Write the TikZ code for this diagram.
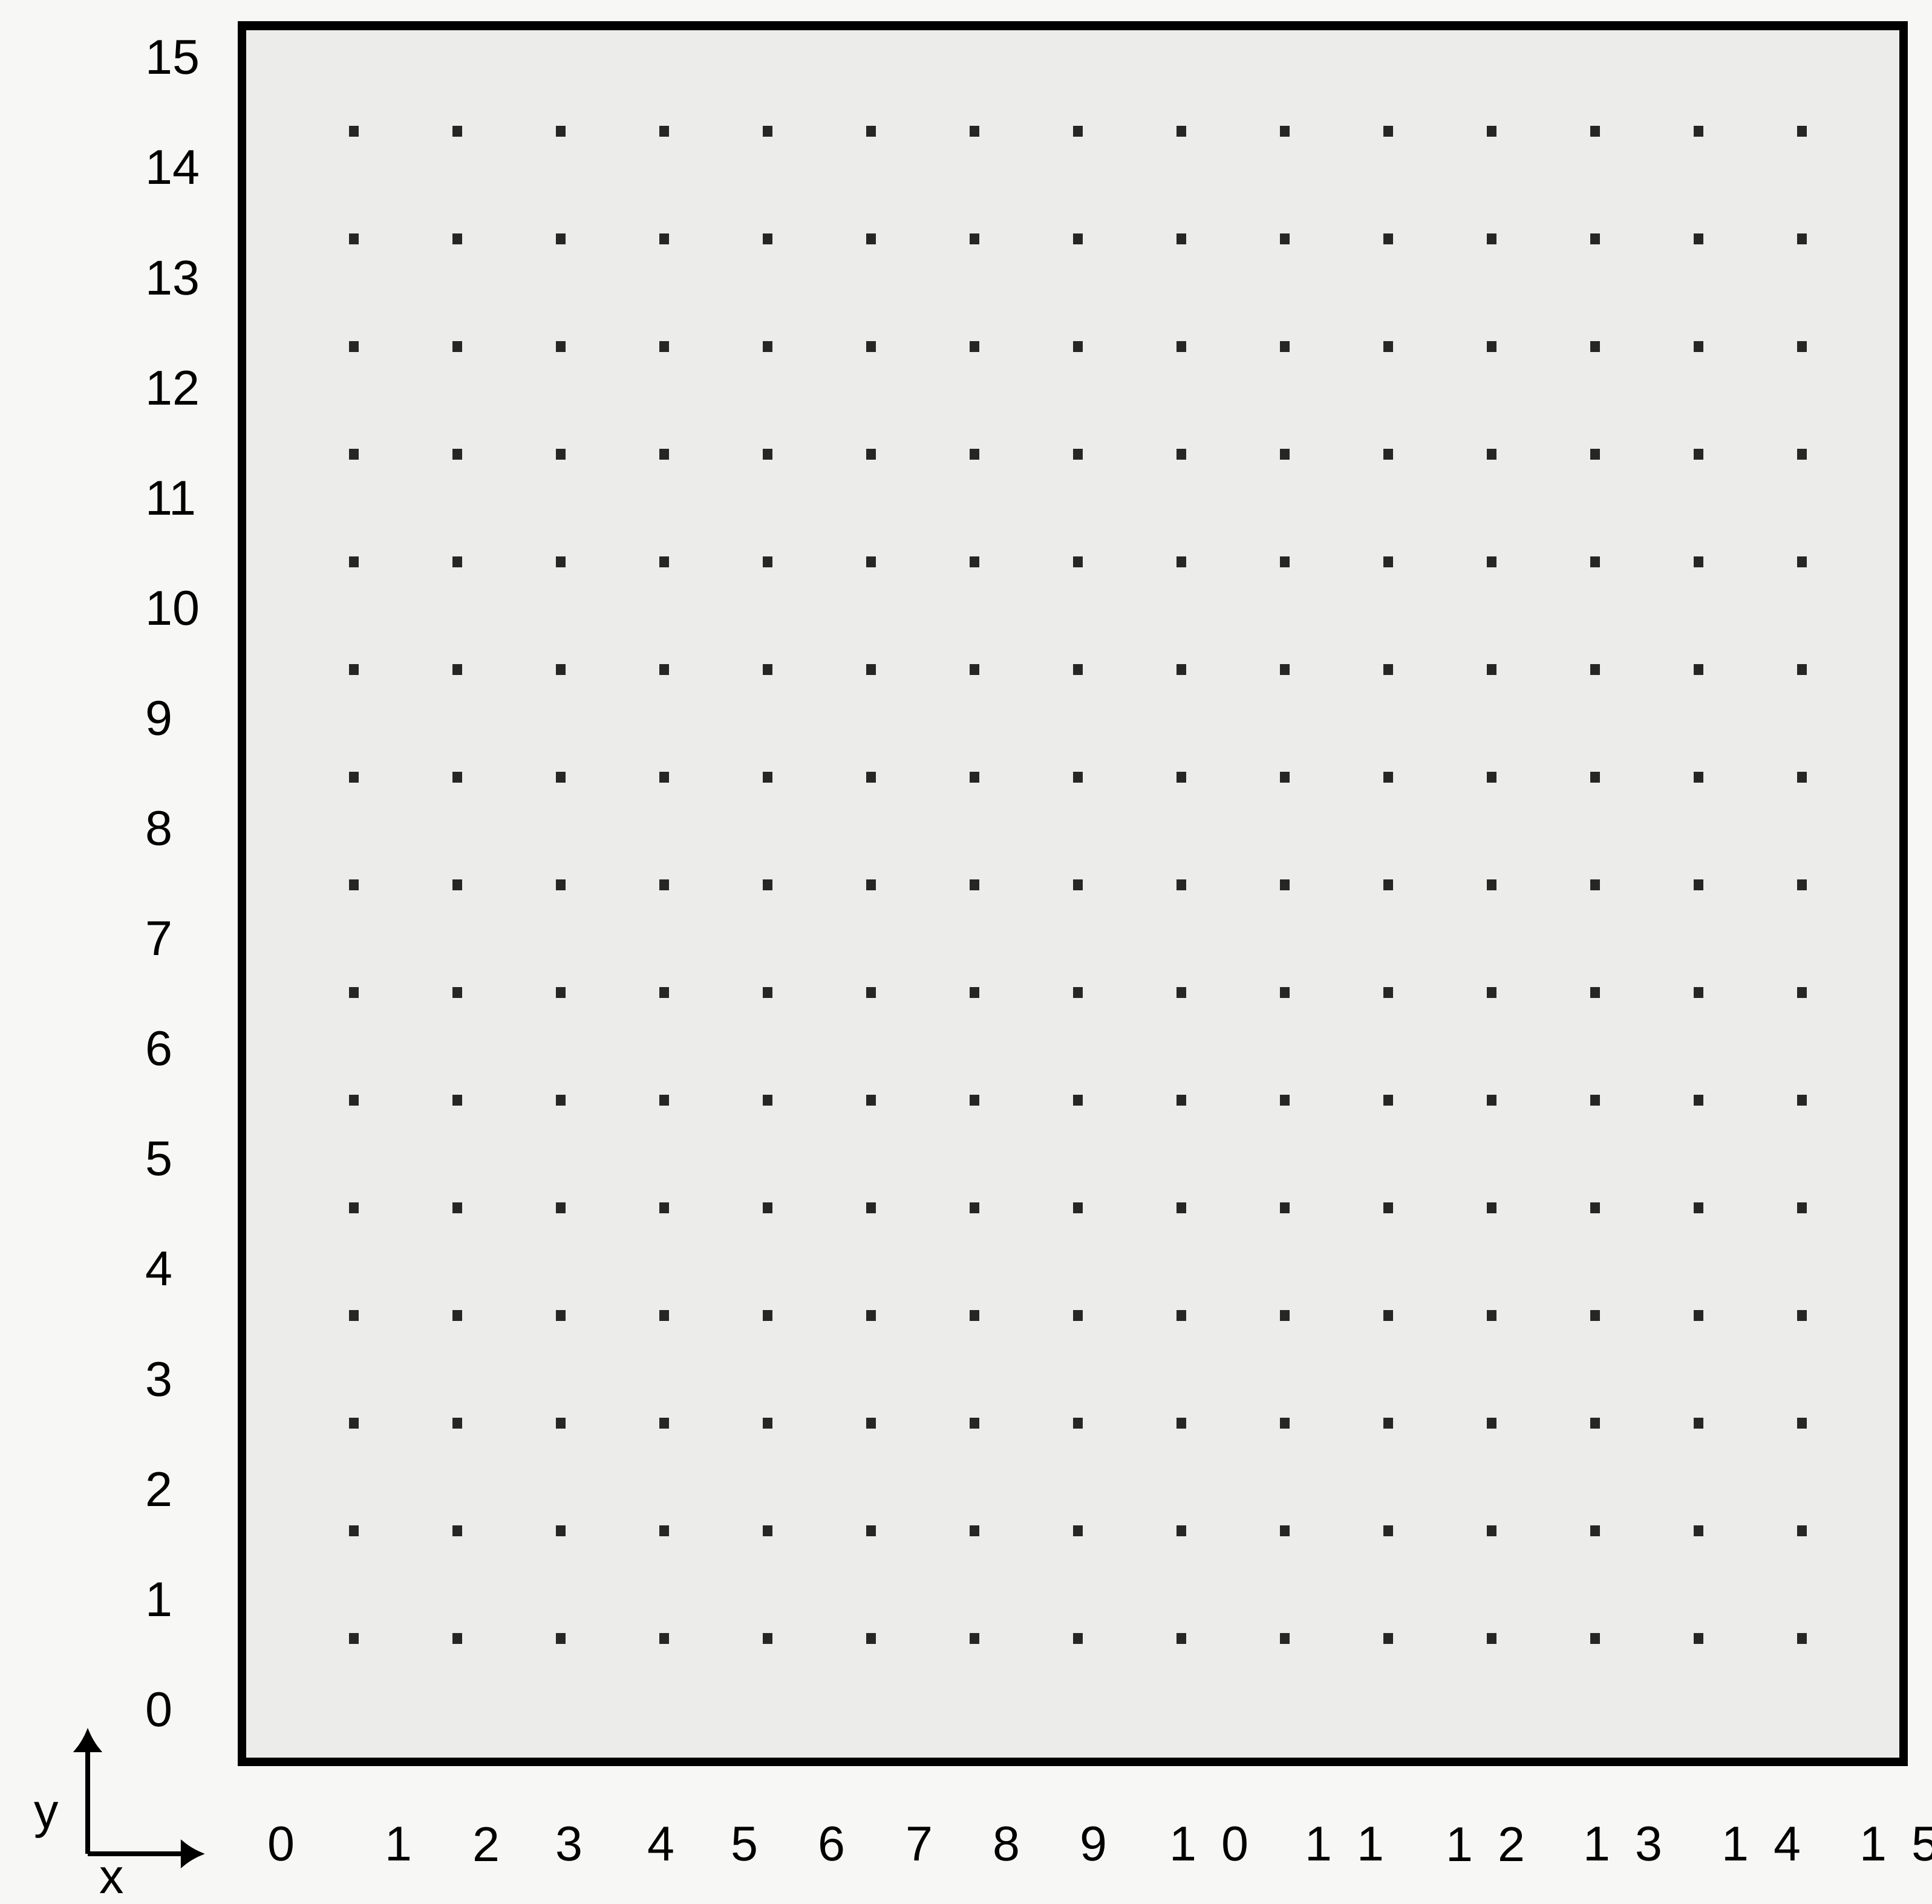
\documentclass[tikz,border=0pt]{standalone}
\usepackage{fontspec}
\setmainfont{Liberation Sans}
\usetikzlibrary{arrows.meta}
\definecolor{papir}{HTML}{F7F7F5}
\definecolor{flate}{HTML}{ECECEA}

\begin{document}
\begin{tikzpicture}[>={Latex[length=4mm,width=5mm]},x=1.71cm,y=1.78cm,
    tall/.style={font=\fontsize{23}{28}\selectfont,inner sep=0pt}]
  \useasboundingbox (-2.421,-1.466) rectangle (16.257,16.219);
  \fill[papir] (-2.421,-1.466) rectangle (16.257,16.219);
  % Ramme
  \filldraw[fill=flate,line width=4pt] (-0.08,-0.146) rectangle (15.98,15.98);
  % Punktgitter, 15 x 15
  \foreach \i in {1,...,15}
    \foreach \j in {1,...,15}
      \fill[black!85] (\i-0.045,\j-0.05) rectangle (\i+0.045,\j+0.05);
  % Akseetiketter
  \foreach \k in {0,...,15}
    \node[tall,anchor=west] (yl\k) at (-1.02,0.34+1.023*\k) {\k};
  \foreach \k/\xx in {0/0.30,1/1.43,2/2.28,3/3.08,4/3.97,5/4.78,6/5.62,7/6.47,8/7.31,9/8.15}
    \node[tall] (xl\k) at (\xx,-0.91) {\k};
  \foreach \k/\e/\xx in {10/0/9.27,11/1/10.58,12/2/11.94,13/3/13.27,14/4/14.61,15/5/15.94}
    \node[tall] (xl\k) at (\xx,-0.91) {1\kern0.41cm\e};
  % Koordinatkryss
  \coordinate (o) at (-1.573,-1.0);
  \coordinate (yt) at (-1.573,0.17);
  \coordinate (xt) at (-0.44,-1.0);
  \draw[->,line width=2.2pt] (o) -- (yt);
  \draw[->,line width=2.2pt] (o) -- (xt);
  \node[tall] (ylab) at (-1.97,-0.69) {y};
  \node[tall] (xlab) at (-1.34,-1.25) {x};
\end{tikzpicture}
\end{document}
